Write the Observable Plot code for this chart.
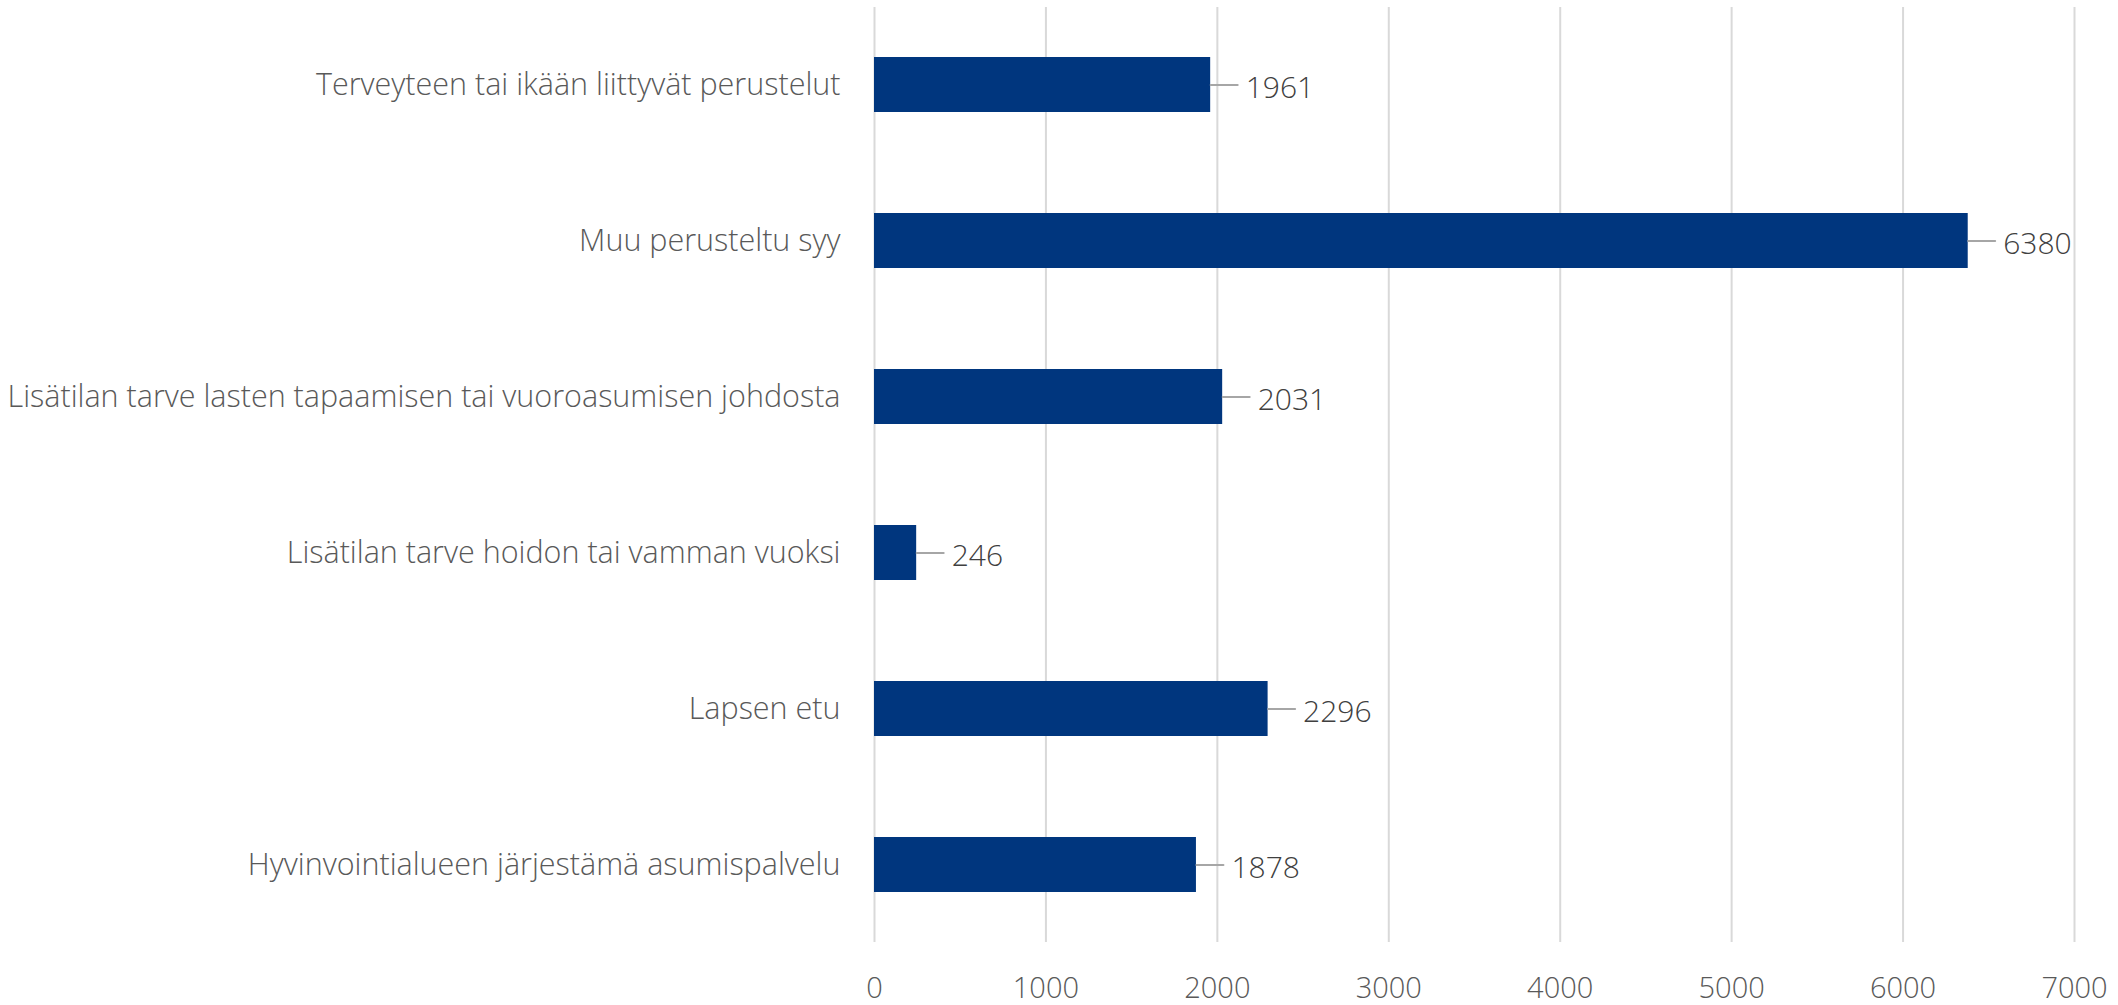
<!DOCTYPE html>
<html>
<head>
<meta charset="utf-8">
<script src="https://cdn.jsdelivr.net/npm/d3@7"></script>
<script src="https://cdn.jsdelivr.net/npm/@observablehq/plot@0.6"></script>
<style>
  html, body { margin: 0; padding: 0; background: #ffffff; }
  #chart svg { display: block; }
</style>
</head>
<body>
<div id="chart"></div>
<script>
const categories = [
  "Terveyteen tai ikään liittyvät perustelut",
  "Muu perusteltu syy",
  "Lisätilan tarve lasten tapaamisen tai vuoroasumisen johdosta",
  "Lisätilan tarve hoidon tai vamman vuoksi",
  "Lapsen etu",
  "Hyvinvointialueen järjestämä asumispalvelu"
];
const values = [1961, 6380, 2031, 246, 2296, 1878];
const xTicks = [0, 1000, 2000, 3000, 4000, 5000, 6000, 7000];

const data = categories.map((c, i) => ({category: c, value: values[i]}));

const leader = {
  draw(context, l) {
    context.moveTo(0, 0);
    context.lineTo(0, -l);
  }
};

const chart = Plot.plot({
  width: 2118,
  height: 1005,
  marginLeft: 874,
  marginRight: 44,
  marginTop: 7,
  marginBottom: 63,
  style: {fontFamily: "'Open Sans', sans-serif", fontWeight: 300, background: "#ffffff"},
  x: {domain: [0, 7000], ticks: xTicks},
  y: {domain: categories, paddingInner: 0.647, paddingOuter: 0.31},
  marks: [
    Plot.gridX(xTicks, {stroke: "#d9d9d9", strokeWidth: 2, strokeOpacity: 1}),
    Plot.barX(data, {x: "value", y: "category", fill: "#00367e"}),
    Plot.vector(data, {x: "value", y: "category", length: 27, rotate: 90, anchor: "start", shape: leader, stroke: "#a6a6a6", strokeWidth: 2}),
    Plot.text(data, {x: "value", y: "category", text: d => String(d.value), dx: 35, dy: 3, textAnchor: "start", fontSize: 30, fill: "#404040"}),
    Plot.axisY({tickSize: 0, tickPadding: 34, fontSize: 30.5, color: "#595959", label: null}),
    Plot.axisX(xTicks, {tickSize: 0, tickPadding: 35, fontSize: 29, color: "#595959", label: null, tickFormat: d => String(d)})
  ]
});
document.getElementById("chart").appendChild(chart);
</script>
</body>
</html>
